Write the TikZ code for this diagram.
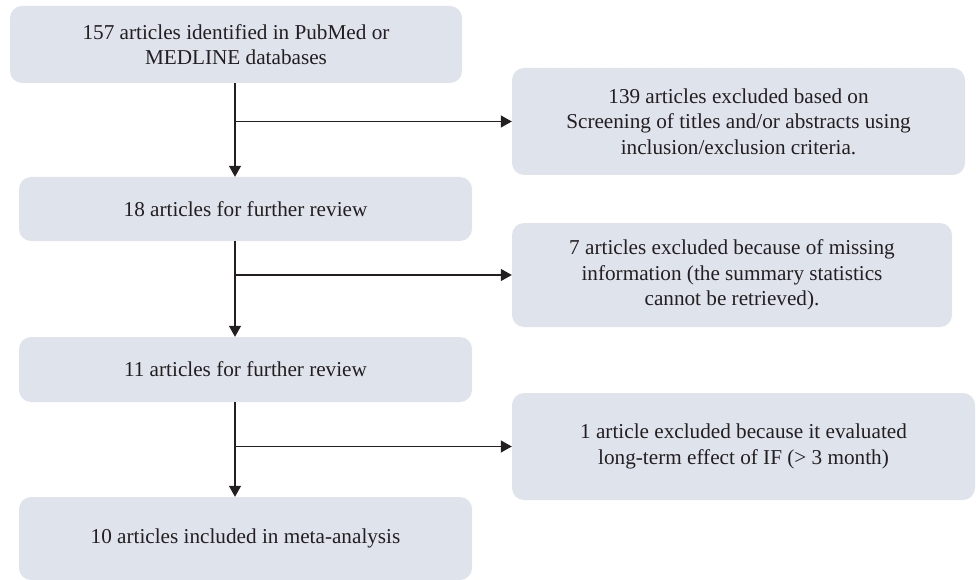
\documentclass[tikz,border=0pt]{standalone}
\usepackage{fontspec}
\setmainfont{Liberation Serif}
\usetikzlibrary{arrows.meta}
\definecolor{boxfill}{HTML}{DFE3EC}
\definecolor{ink}{HTML}{231F20}
\begin{document}
\begin{tikzpicture}[x=1pt,y=-1pt,
  flowbox/.style={rectangle, rounded corners=12pt, fill=boxfill, draw=none,
    align=center, text=ink, inner sep=0pt,
    font=\fontsize{21.2}{25.5}\selectfont},
  arr/.style={draw=ink, line width=1.2pt, -{Triangle[width=12pt,length=11pt]}},
  ln/.style={draw=ink, line width=1.2pt}]
\useasboundingbox (0,0) rectangle (976,580);
\node[flowbox, minimum width=452pt, minimum height=77pt] (b1) at (236,44.5)
  {157 articles identified in PubMed or\\MEDLINE databases};
\node[flowbox, minimum width=453pt, minimum height=64pt] (b2) at (245.5,209)
  {18 articles for further review};
\node[flowbox, minimum width=453pt, minimum height=65pt] (b3) at (245.5,369.5)
  {11 articles for further review};
\node[flowbox, minimum width=453pt, minimum height=83pt] (b4) at (245.5,538.5)
  {10 articles included in meta-analysis};
\node[flowbox, minimum width=453pt, minimum height=107pt] (r1) at (738.5,121.5)
  {139 articles excluded based on\\Screening of titles and/or abstracts using\\inclusion/exclusion criteria.};
\node[flowbox, minimum width=440pt, minimum height=104pt] (r2) at (732,275)
  {7 articles excluded because of missing\\information (the summary statistics\\cannot be retrieved).};
\node[flowbox, minimum width=463pt, minimum height=107pt] (r3) at (743.5,446.5)
  {1 article excluded because it evaluated\\long-term effect of IF (> 3 month)};
\coordinate (x) at (235,0);
\draw[arr] (b1.south -| x) -- (b2.north -| x);
\draw[arr] (b2.south -| x) -- (b3.north -| x);
\draw[arr] (b3.south -| x) -- (b4.north -| x);
\draw[arr] (r1.west -| x) -- (r1.west);
\draw[arr] (r2.west -| x) -- (r2.west);
\draw[arr] (r3.west -| x) -- (r3.west);
\end{tikzpicture}
\end{document}
